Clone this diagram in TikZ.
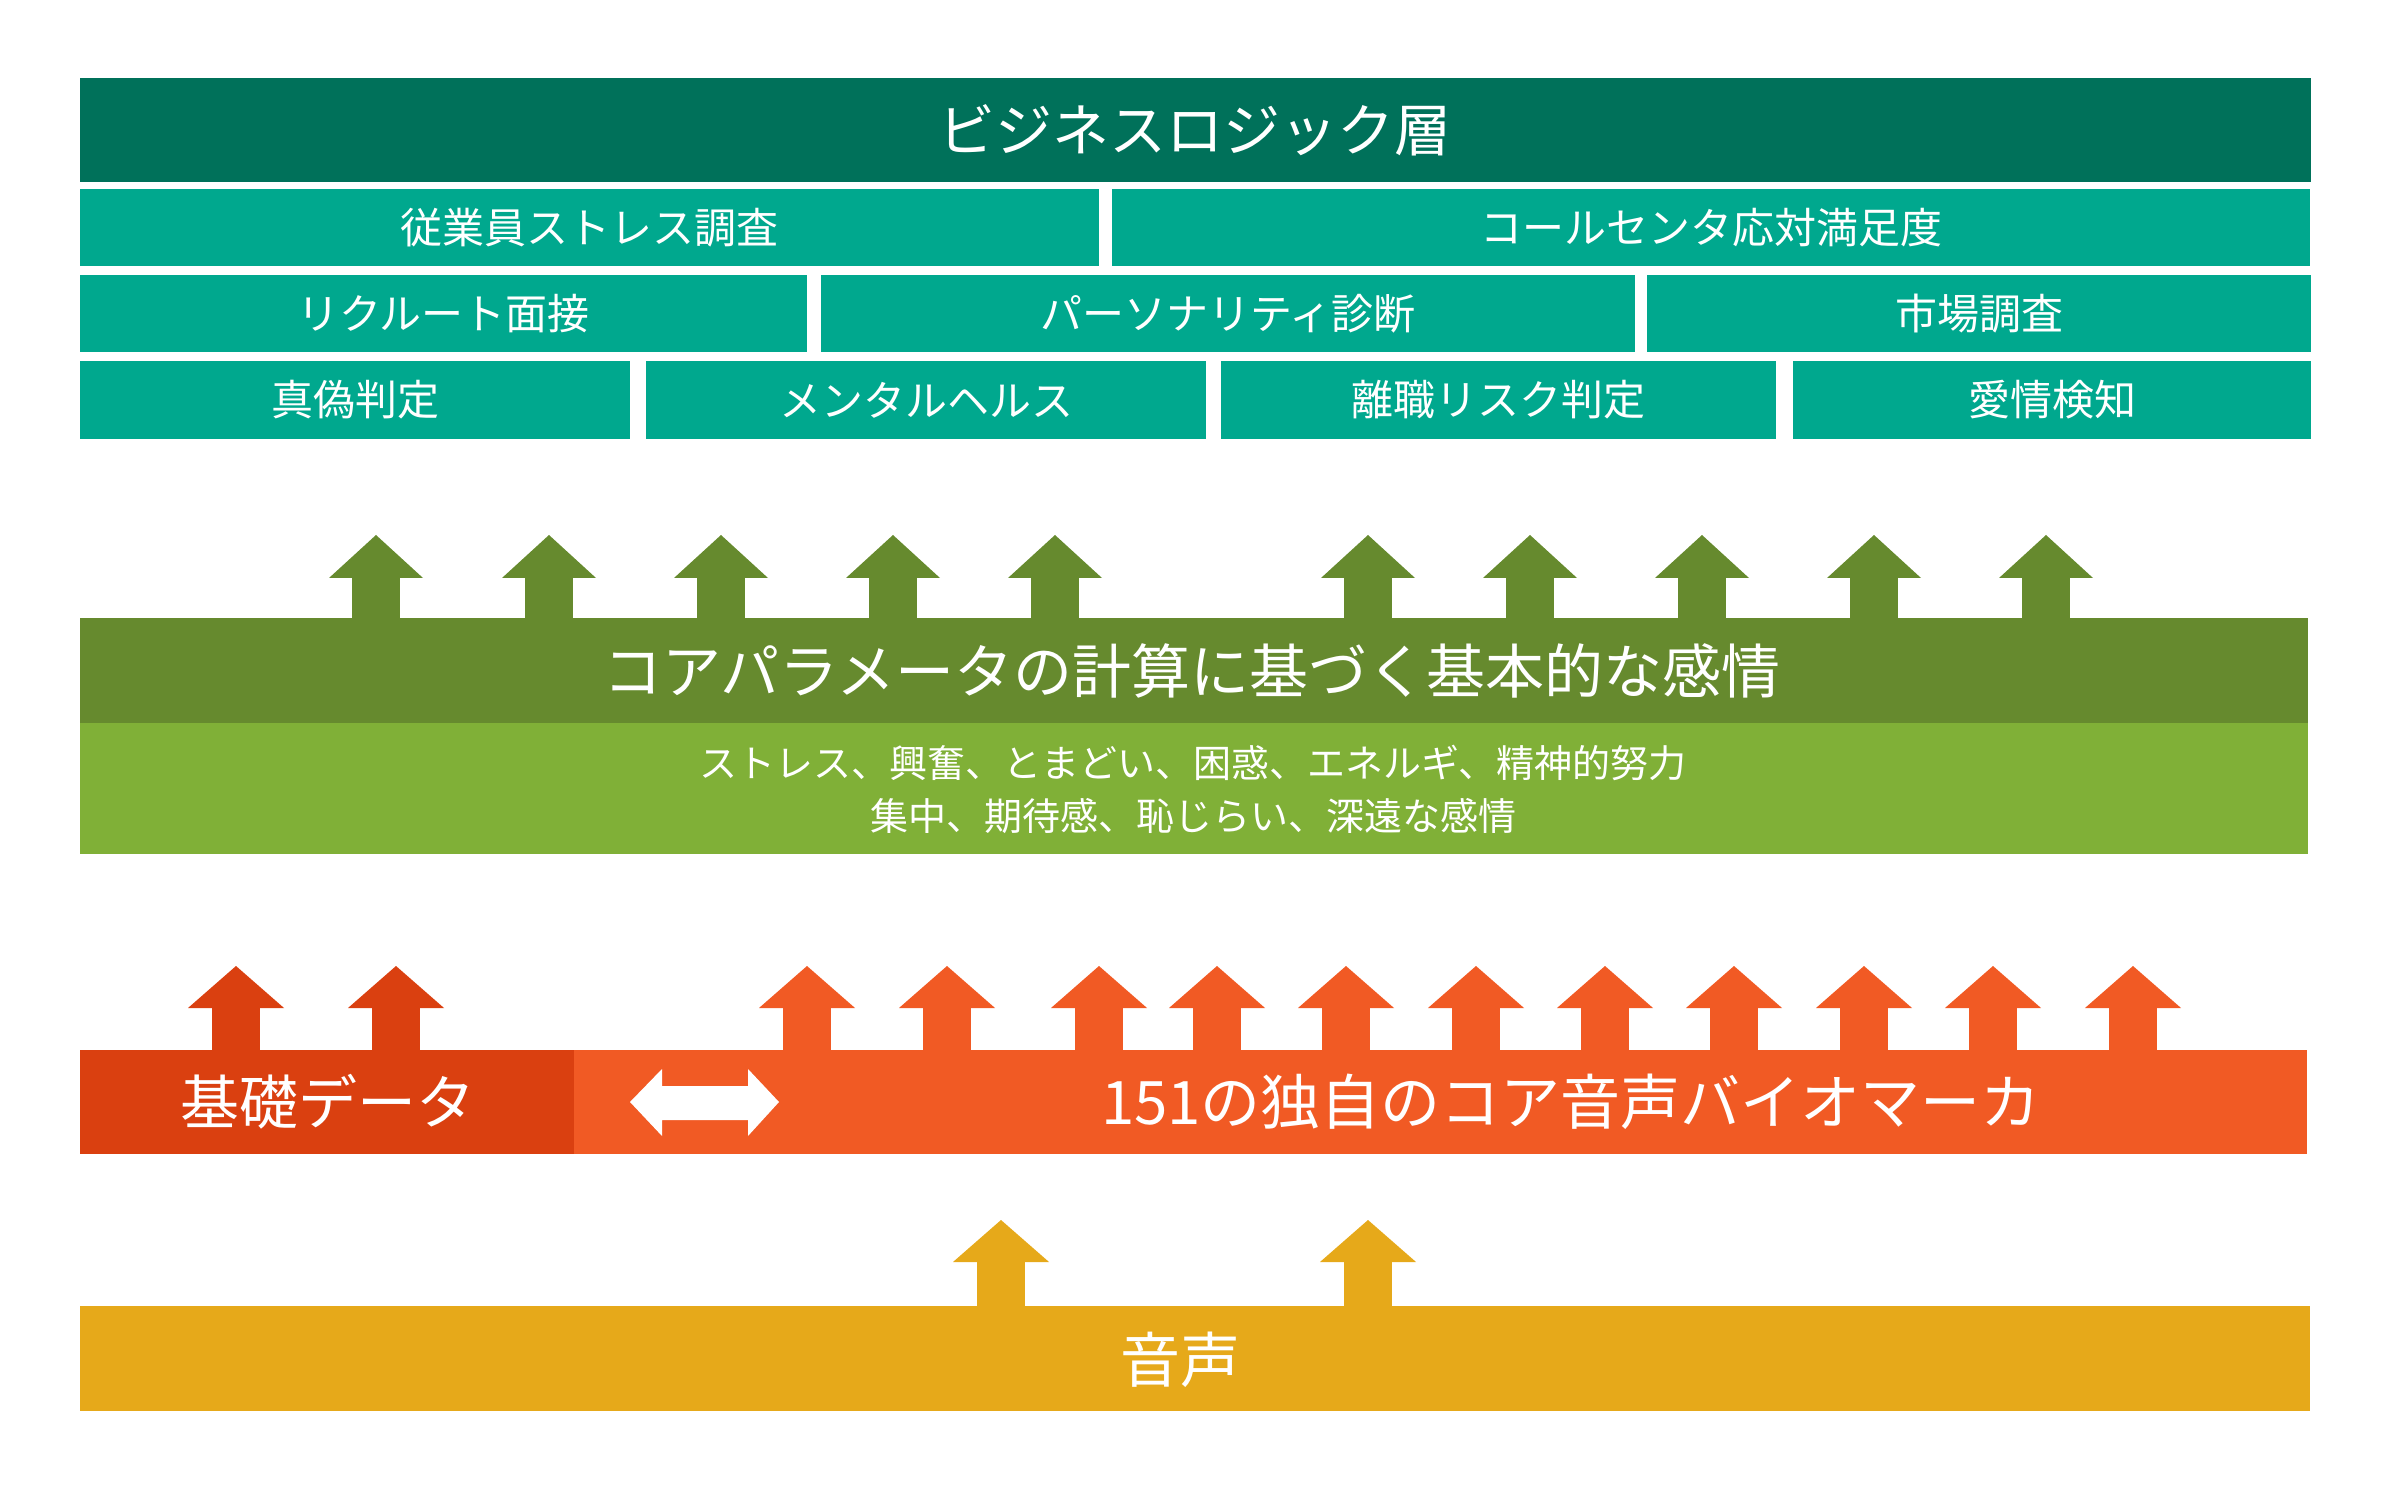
\documentclass[tikz,border=0pt]{standalone}
\usepackage{fontspec}
\setmainfont{Noto Sans CJK JP}
\definecolor{tealD}{RGB}{0,113,90}
\definecolor{tealL}{RGB}{0,168,142}
\definecolor{grnD}{RGB}{102,138,46}
\definecolor{grnL}{RGB}{128,176,55}
\definecolor{orgD}{RGB}{218,64,16}
\definecolor{orgL}{RGB}{241,90,36}
\definecolor{yel}{RGB}{230,169,26}
\begin{document}
\begin{tikzpicture}[x=0.5pt,y=-0.5pt,
  lbl/.style={text=white,inner sep=0pt,anchor=center},
  rowtxt/.style={lbl,font=\fontsize{21pt}{25pt}\selectfont},
  bigtxt/.style={lbl,font=\fontsize{29.5pt}{35pt}\selectfont}]
\useasboundingbox (0,0) rectangle (2388,1491);
% business logic layer
\fill[tealD] (80,78) rectangle (2311,182);
\node[lbl,font=\fontsize{28.5pt}{34pt}\selectfont] (biz) at (1195,130) {ビジネスロジック層};
% row 1
\fill[tealL] (80,189) rectangle (1099,266);
\fill[tealL] (1112,189) rectangle (2310,266);
\node[rowtxt] (r1a) at (589.5,227.5) {従業員ストレス調査};
\node[rowtxt] (r1b) at (1711,227.5) {コールセンタ応対満足度};
% row 2
\fill[tealL] (80,275) rectangle (807,352);
\fill[tealL] (821,275) rectangle (1635,352);
\fill[tealL] (1647,275) rectangle (2311,352);
\node[rowtxt] (r2a) at (443.5,313.5) {リクルート面接};
\node[rowtxt] (r2b) at (1228,313.5) {パーソナリティ診断};
\node[rowtxt] (r2c) at (1979,313.5) {市場調査};
% row 3
\fill[tealL] (80,361) rectangle (630,439);
\fill[tealL] (646,361) rectangle (1206,439);
\fill[tealL] (1221,361) rectangle (1776,439);
\fill[tealL] (1793,361) rectangle (2311,439);
\node[rowtxt] (r3a) at (355,400) {真偽判定};
\node[rowtxt] (r3b) at (926,400) {メンタルヘルス};
\node[rowtxt] (r3c) at (1498.5,400) {離職リスク判定};
\node[rowtxt] (r3d) at (2052,400) {愛情検知};
% green arrows
\foreach \x in {376,549,721,893,1055,1368,1530,1702,1874,2046}{
  \fill[grnD] (\x-24,620) rectangle (\x+24,577);
  \fill[grnD] (\x-47,578) -- (\x+47,578) -- (\x,535) -- cycle;
}
% emotions
\fill[grnD] (80,618) rectangle (2308,723);
\fill[grnL] (80,723) rectangle (2308,854);
\node[bigtxt] (emo) at (1192,671) {コアパラメータの計算に基づく基本的な感情};
\node[lbl,align=center,font=\fontsize{19pt}{26.5pt}\selectfont] (emolist) at (1193,789)
  {ストレス、興奮、とまどい、困惑、エネルギ、精神的努力\\集中、期待感、恥じらい、深遠な感情};
% orange arrows
\foreach \x in {236,396}{
  \fill[orgD] (\x-24,1052) rectangle (\x+24,1007);
  \fill[orgD] (\x-48,1008) -- (\x+48,1008) -- (\x,966) -- cycle;
}
\foreach \x in {807,947,1099,1217,1346,1476,1605,1734,1864,1993,2133}{
  \fill[orgL] (\x-24,1052) rectangle (\x+24,1007);
  \fill[orgL] (\x-48,1008) -- (\x+48,1008) -- (\x,966) -- cycle;
}
% biomarkers
\fill[orgD] (80,1050) rectangle (574,1154);
\fill[orgL] (574,1050) rectangle (2307,1154);
\node[bigtxt] (base) at (328,1102) {基礎データ};
\node[lbl,font=\fontsize{30pt}{35pt}\selectfont] (bio) at (1571,1102) {151の独自のコア音声バイオマーカ};
\fill[white] (630,1102) -- (662,1069) -- (662,1086) -- (748,1086) -- (748,1069)
  -- (779,1102) -- (748,1136) -- (748,1120) -- (662,1120) -- (662,1136) -- cycle;
% voice
\foreach \x in {1001,1368}{
  \fill[yel] (\x-24,1308) rectangle (\x+24,1261);
  \fill[yel] (\x-48,1262) -- (\x+48,1262) -- (\x,1220) -- cycle;
}
\fill[yel] (80,1306) rectangle (2310,1411);
\node[lbl,font=\fontsize{30pt}{35pt}\selectfont] (voice) at (1180,1360) {音声};
\end{tikzpicture}
\end{document}
